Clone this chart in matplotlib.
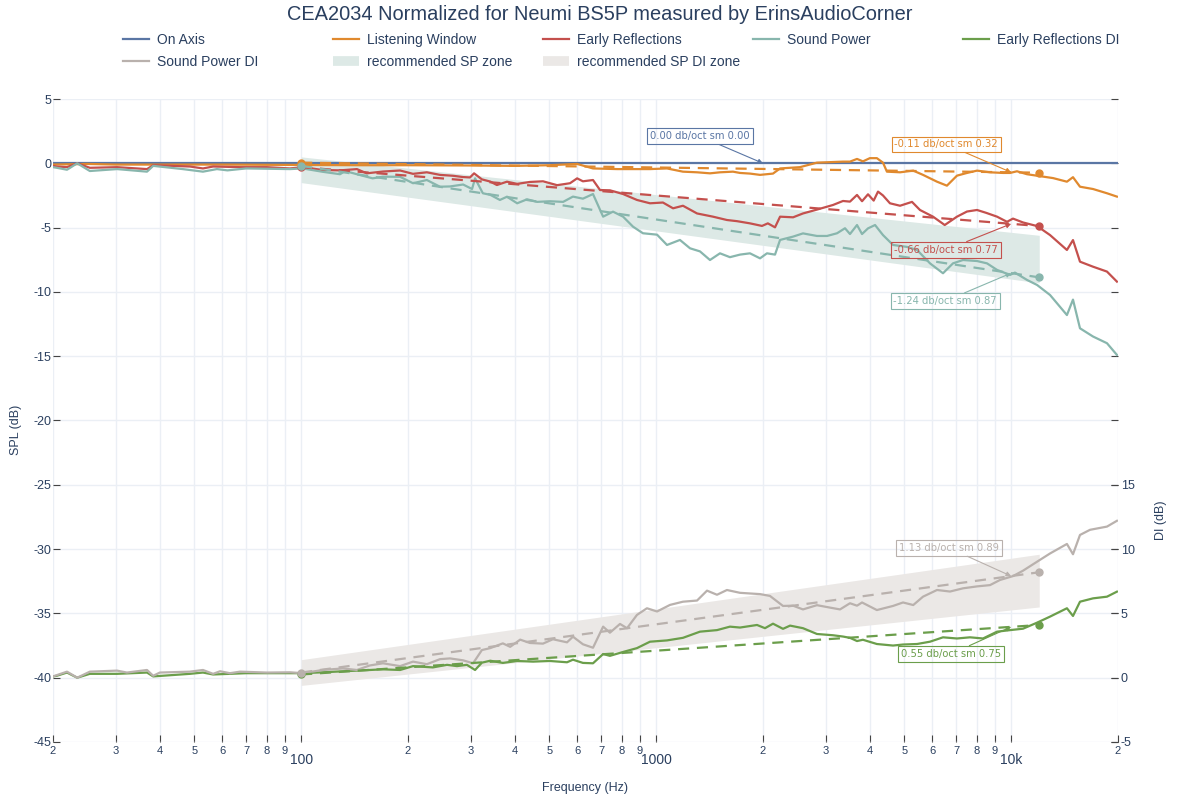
import matplotlib
matplotlib.use("Agg")
import matplotlib.pyplot as pyplot
from matplotlib.lines import Line2D
from matplotlib.ticker import FixedLocator, FixedFormatter
import numpy

TITLE = "CEA2034 Normalized for Neumi BS5P measured by ErinsAudioCorner"

# --- spl curves (dB) -------------------------------------------------------
ON_FREQ = [20, 20000]
ON_SPL = [0.0, 0.0]

LW_FREQ = [20, 25, 30, 40, 60, 100, 150, 200, 300, 400, 500, 599, 664, 776, 900,
           961, 1073, 1190, 1304, 1418, 1513, 1646, 1723, 1838, 1962, 2134, 2234,
           2542, 2838, 3360, 3516, 3680, 3824, 4000, 4186, 4355, 4468, 4865, 5300,
           5646, 6182, 6593, 7038, 7510, 8016, 8720, 9488, 9930, 10388, 11085,
           12060, 13124, 14360, 14936, 15630, 17010, 18620, 19860]
LW_SPL = [-0.1, -0.05, -0.1, -0.1, -0.1, -0.13, -0.15, -0.15, -0.17, -0.2, -0.15,
          -0.05, -0.4, -0.45, -0.45, -0.45, -0.4, -0.65, -0.7, -0.78, -0.7, -0.65,
          -0.75, -0.8, -0.9, -0.8, -0.4, -0.3, 0.05, 0.13, 0.13, 0.34, 0.15, 0.4,
          0.4, 0.05, -0.65, -0.7, -0.57, -0.9, -1.43, -1.74, -0.96, -0.75, -0.57,
          -0.7, -0.75, -0.75, -0.62, -0.85, -1.0, -1.15, -1.43, -1.08, -1.82, -2.0,
          -2.33, -2.59]

ER_FREQ = [20, 20.5, 21.9, 23.4, 25.4, 30.3, 36.8, 38.3, 48.6, 52.9, 56.5, 67.3,
           80, 93, 101, 115, 128.7, 143.6, 153, 170, 190, 206.6, 226, 246, 268,
           286, 299, 307, 323, 341, 356, 380, 406, 441, 480, 526, 572, 599, 622,
           664, 695, 741, 807, 883, 961, 1045, 1116, 1190, 1304, 1446, 1583, 1690,
           1838, 1987, 2064, 2162, 2234, 2431, 2592, 2838, 3150, 3360, 3516, 3680,
           3802, 3952, 4100, 4217, 4355, 4557, 4865, 5257, 5536, 6025, 6500, 7038,
           7510, 8016, 8500, 9127, 9736, 10120, 10800, 11832, 12870, 14360, 14936,
           15630, 17010, 18620, 19860]
ER_SPL = [-0.2, -0.25, -0.3, 0.0, -0.35, -0.3, -0.45, -0.15, -0.25, -0.4, -0.25,
          -0.3, -0.3, -0.4, -0.3, -0.52, -0.55, -0.45, -0.78, -0.64, -0.56, -0.82,
          -0.7, -0.9, -0.97, -1.07, -1.1, -0.78, -1.25, -1.42, -1.69, -1.43, -1.6,
          -1.45, -1.4, -1.7, -1.55, -1.17, -1.4, -1.3, -2.08, -2.1, -2.39, -2.85,
          -3.11, -3.05, -3.5, -3.3, -3.9, -4.15, -4.41, -4.5, -4.67, -4.87, -4.67,
          -4.98, -4.15, -4.2, -3.9, -3.6, -3.24, -2.93, -2.98, -2.46, -2.95, -2.41,
          -2.9, -2.2, -2.5, -3.11, -3.3, -3.0, -3.63, -4.15, -4.8, -4.15, -3.75,
          -3.63, -3.85, -4.15, -4.55, -4.3, -4.6, -4.88, -5.58, -6.74, -5.97,
          -7.65, -8.04, -8.42, -9.2]

SP_FREQ = [20, 20.5, 21.9, 23.4, 25.4, 30.3, 36.8, 38.3, 46.4, 52.9, 57.9, 62, 70,
           93, 101, 115, 128.7, 133, 143.6, 159, 170, 190, 206.6, 226, 246, 262.6,
           286, 303, 309, 325, 341, 363, 380, 406, 433, 462, 502, 547, 583, 622,
           664, 709, 756, 807, 861, 918, 1006, 1073, 1167, 1246, 1329, 1418, 1513,
           1614, 1723, 1838, 1962, 2052, 2162, 2234, 2431, 2592, 2838, 3030, 3233,
           3404, 3516, 3680, 3802, 3952, 4137, 4355, 4648, 5088, 5432, 5908, 6428,
           6858, 7318, 8016, 8551, 9127, 9930, 10250, 11085, 11832, 12870, 14360,
           14936, 15630, 17010, 18620, 19860]
SP_SPL = [-0.3, -0.35, -0.5, 0.0, -0.6, -0.45, -0.65, -0.2, -0.45, -0.65, -0.45,
          -0.55, -0.4, -0.45, -0.4, -0.66, -0.85, -0.6, -0.85, -1.17, -1.04, -1.05,
          -1.55, -1.3, -1.82, -1.8, -1.65, -2.0, -1.17, -2.33, -2.45, -2.85, -2.6,
          -3.11, -2.8, -3.0, -2.95, -3.0, -2.59, -2.75, -2.39, -4.15, -3.76, -4.15,
          -4.93, -5.44, -5.55, -6.35, -5.96, -6.61, -6.85, -7.52, -7.0, -7.3, -7.1,
          -7.0, -7.39, -7.0, -7.1, -5.96, -5.7, -5.45, -5.65, -5.65, -5.44, -5.05,
          -5.5, -4.8, -5.5, -5.06, -4.8, -5.58, -6.35, -6.5, -6.74, -7.78, -8.55,
          -7.78, -7.52, -7.6, -7.78, -8.29, -8.68, -8.5, -9.07, -9.46, -10.24,
          -11.8, -10.6, -12.83, -13.47, -13.99, -14.9]

# --- directivity index curves (dB) ------------------------------------------
ERDI_FREQ = [20, 20.5, 21.9, 23.4, 25.4, 30.3, 36.8, 38.3, 48.6, 52.9, 56.5, 70,
             93, 101, 115, 143.6, 170, 190, 206.6, 235, 257.6, 274.8, 293, 309,
             323, 341, 370, 406, 450, 502, 561, 583, 622, 664, 709, 741, 807, 883,
             961, 1073, 1190, 1329, 1484, 1614, 1723, 1924, 2026, 2134, 2277, 2384,
             2592, 2838, 3150, 3360, 3516, 3680, 3824, 4186, 4648, 4960, 5432, 5908,
             6428, 7038, 7658, 8333, 9127, 9930, 10800, 11832, 12870, 14360, 14936,
             15630, 17010, 18620, 19860]
ERDI = [0.1, 0.15, 0.4, 0.0, 0.3, 0.3, 0.4, 0.1, 0.3, 0.4, 0.25, 0.35, 0.35, 0.35,
        0.42, 0.55, 0.65, 0.6, 0.9, 0.8, 1.0, 0.9, 1.0, 0.6, 1.17, 1.32, 1.15, 1.3,
        1.25, 1.3, 1.2, 1.4, 1.15, 1.12, 1.84, 1.7, 2.0, 2.3, 2.8, 2.9, 3.1, 3.58,
        3.7, 3.97, 3.9, 4.1, 3.85, 4.2, 3.8, 4.05, 3.85, 3.4, 3.3, 3.2, 3.1, 2.85,
        2.95, 2.62, 2.5, 2.58, 2.62, 2.8, 3.14, 3.05, 3.14, 3.05, 3.58, 3.7, 3.81,
        4.28, 4.75, 5.4, 4.8, 5.91, 6.17, 6.3, 6.69]

SPDI_FREQ = [20, 20.5, 21.9, 23.4, 25.4, 30.3, 32.3, 36.8, 38.3, 40, 48.6, 52.9,
             56.5, 59.1, 63, 67.3, 80, 93, 101, 115, 131, 143.6, 156, 170, 190,
             206.6, 226, 246, 262.6, 286, 305, 323, 341, 370, 388, 414, 441, 480,
             512, 561, 583, 622, 664, 709, 741, 791, 828, 883, 942, 1006, 1094,
             1190, 1304, 1391, 1484, 1583, 1723, 1838, 1962, 2092, 2277, 2431, 2592,
             2838, 3089, 3296, 3516, 3680, 3802, 4186, 4648, 4960, 5300, 5646, 6182,
             6727, 7318, 8016, 8720, 9304, 10120, 10800, 11832, 12870, 14360, 14936,
             15630, 16680, 18620, 19860]
SPDI = [0.1, 0.2, 0.47, 0.0, 0.47, 0.55, 0.4, 0.6, 0.15, 0.4, 0.47, 0.6, 0.3, 0.5,
        0.35, 0.47, 0.4, 0.42, 0.35, 0.6, 0.72, 0.6, 0.95, 1.12, 0.9, 1.25, 1.05,
        1.44, 1.5, 1.35, 1.12, 2.15, 2.3, 2.67, 2.4, 2.96, 2.7, 2.65, 2.99, 2.75,
        3.19, 2.6, 2.33, 3.97, 3.5, 4.18, 3.85, 4.88, 5.4, 5.15, 5.66, 5.91, 6.0,
        6.77, 6.45, 6.82, 6.6, 6.55, 6.5, 6.36, 5.58, 5.6, 5.31, 5.64, 5.45, 5.31,
        5.79, 5.6, 5.85, 5.26, 5.58, 5.85, 5.65, 6.3, 6.82, 6.7, 6.95, 7.1, 7.2,
        7.6, 7.9, 8.32, 9.02, 9.66, 10.4, 9.6, 11.1, 11.5, 11.75, 12.2]

# --- slope fits and recommended zones -------------------------------------
FIT_FREQ = [100, 12000]
LW_FIT = [0.05, -0.73]
ER_FIT = [-0.3, -4.88]
SP_FIT = [-0.2, -8.87]
ERDI_FIT = [0.25, 4.1]
SPDI_FIT = [0.4, 8.2]

ZONE_FREQ = [100, 12000]
SP_ZONE_HI = [0.5, -5.6]
SP_ZONE_LO = [-1.5, -9.3]
SPDI_ZONE_HI = [1.4, 9.6]
SPDI_ZONE_LO = [-0.6, 5.5]

NOTE_ON = "0.00 db/oct sm 0.00"
NOTE_LW = "-0.11 db/oct sm 0.32"
NOTE_ER = "-0.66 db/oct sm 0.77"
NOTE_SP = "-1.24 db/oct sm 0.87"
NOTE_SPDI = "1.13 db/oct sm 0.89"
NOTE_ERDI = "0.55 db/oct sm 0.75"

COLORS = {
    "on": "#5a76a4",
    "lw": "#e0892e",
    "er": "#c4504d",
    "sp": "#88b6ad",
    "erdi": "#6b9e4b",
    "spdi": "#b9b1ad",
    "sp_zone": "#dde9e6",
    "spdi_zone": "#ebe8e6",
}
TEXT = "#2a3f5f"
GRID = "#ebeff5"

pyplot.rcParams["font.family"] = ["Liberation Sans", "DejaVu Sans"]
pyplot.rcParams["axes.unicode_minus"] = False

fig = pyplot.figure(figsize=(12, 8), dpi=100)
ax = fig.add_axes([53 / 1200, 1 - 742 / 800, 1065 / 1200, 643 / 800])
ax2 = ax.twinx()

ax.set_xscale("log")
ax.set_xlim(20, 20000)
ax.set_ylim(-45, 5)
ax2.set_ylim(-5, 45)

# zones
ax.fill_between(ZONE_FREQ, SP_ZONE_LO, SP_ZONE_HI, color=COLORS["sp_zone"], lw=0, zorder=1)
ax2.fill_between(ZONE_FREQ, SPDI_ZONE_LO, SPDI_ZONE_HI, color=COLORS["spdi_zone"], lw=0, zorder=1)

lw = 1.6
h_on, = ax.plot(ON_FREQ, ON_SPL, color=COLORS["on"], lw=lw, zorder=3)
h_lw, = ax.plot(LW_FREQ, LW_SPL, color=COLORS["lw"], lw=lw, zorder=3)
h_er, = ax.plot(ER_FREQ, ER_SPL, color=COLORS["er"], lw=lw, zorder=3)
h_sp, = ax.plot(SP_FREQ, SP_SPL, color=COLORS["sp"], lw=lw, zorder=3)
h_erdi, = ax2.plot(ERDI_FREQ, ERDI, color=COLORS["erdi"], lw=lw, zorder=3)
h_spdi, = ax2.plot(SPDI_FREQ, SPDI, color=COLORS["spdi"], lw=lw, zorder=3)

fit_style = dict(lw=1.6, ls=(0, (5, 3.5)), marker="o", markersize=5, zorder=4)
ax.plot(FIT_FREQ, LW_FIT, color=COLORS["lw"], **fit_style)
ax.plot(FIT_FREQ, ER_FIT, color=COLORS["er"], **fit_style)
ax.plot(FIT_FREQ, SP_FIT, color=COLORS["sp"], **fit_style)
ax2.plot(FIT_FREQ, ERDI_FIT, color=COLORS["erdi"], **fit_style)
ax2.plot(FIT_FREQ, SPDI_FIT, color=COLORS["spdi"], **fit_style)


def fit_at(freq, fit):
    t = numpy.log10(freq / FIT_FREQ[0]) / numpy.log10(FIT_FREQ[1] / FIT_FREQ[0])
    return fit[0] + t * (fit[1] - fit[0])


def add_note(axis, text, xy, offset, color):
    axis.annotate(text, xy=xy, xytext=offset, textcoords="offset pixels",
                  ha="center", va="center", fontsize=7.2, color=color,
                  family="DejaVu Sans", zorder=6,
                  bbox=dict(boxstyle="square,pad=0.28", fc="none", ec=color, lw=0.8),
                  arrowprops=dict(arrowstyle="-|>", color=color, lw=0.8,
                                  mutation_scale=7, shrinkA=0, shrinkB=0))


add_note(ax, NOTE_ON, (2000, 0.0), (-63, 27), COLORS["on"])
add_note(ax, NOTE_LW, (10000, fit_at(10000, LW_FIT)), (-65, 28), COLORS["lw"])
add_note(ax, NOTE_ER, (10000, fit_at(10000, ER_FIT)), (-65, -26), COLORS["er"])
add_note(ax, NOTE_SP, (10000, fit_at(10000, SP_FIT)), (-66, -28), COLORS["sp"])
add_note(ax2, NOTE_SPDI, (10000, fit_at(10000, SPDI_FIT)), (-62, 28), COLORS["spdi"])
add_note(ax2, NOTE_ERDI, (10000, fit_at(10000, ERDI_FIT)), (-60, -27), COLORS["erdi"])

# axes styling
for a in (ax, ax2):
    for s in a.spines.values():
        s.set_visible(False)
ax2.patch.set_visible(False)

major = [100, 1000, 10000]
minor = [m * d for d in (10, 100, 1000) for m in range(2, 10)] + [20000]
ax.xaxis.set_major_locator(FixedLocator(major))
ax.xaxis.set_major_formatter(FixedFormatter(["100", "1000", "10k"]))
ax.xaxis.set_minor_locator(FixedLocator(minor))
ax.xaxis.set_minor_formatter(FixedFormatter([str(m)[0] for m in minor]))
ax.tick_params(axis="x", which="major", direction="in", length=5, width=0.8,
               colors="#444444", labelcolor=TEXT, labelsize=10, pad=8)
ax.tick_params(axis="x", which="minor", direction="in", length=5, width=0.8,
               colors="#444444", labelcolor=TEXT, labelsize=8, pad=3)

ax.set_yticks(numpy.arange(-45, 6, 5))
ax.tick_params(axis="y", direction="in", length=5, width=0.8, colors="#444444",
               labelcolor=TEXT, labelsize=9, pad=1, right=True)
ax2.set_yticks([-5, 0, 5, 10, 15])
ax2.tick_params(axis="y", direction="in", length=5, width=0.8, colors="#444444",
                labelcolor=TEXT, labelsize=9, pad=2)

ax.grid(True, which="both", axis="x", color=GRID, lw=1, zorder=0)
ax.grid(True, which="major", axis="y", color=GRID, lw=1, zorder=0)
ax.set_axisbelow(True)

ax.set_xlabel("Frequency (Hz)", color=TEXT, fontsize=9)
ax.xaxis.set_label_coords(0.5, -0.062)
ax.set_ylabel("SPL (dB)", color=TEXT, fontsize=9)
ax.yaxis.set_label_coords(-0.029, 0.485)
ax2.set_ylabel("DI (dB)", color=TEXT, fontsize=9)
ax2.yaxis.set_label_coords(1.035, 0.345)

fig.suptitle(TITLE, y=1 - 15 / 800, va="center", fontsize=14.4, color=TEXT)

# legend, five evenly spaced columns
zone_sp = Line2D([], [], color=COLORS["sp_zone"], lw=7, solid_capstyle="butt")
zone_spdi = Line2D([], [], color=COLORS["spdi_zone"], lw=7, solid_capstyle="butt")
columns = [
    ([h_on, h_spdi], ["On Axis", "Sound Power DI"]),
    ([h_lw, zone_sp], ["Listening Window", "recommended SP zone"]),
    ([h_er, zone_spdi], ["Early Reflections", "recommended SP DI zone"]),
    ([h_sp], ["Sound Power"]),
    ([h_erdi], ["Early Reflections DI"]),
]
for i, (handles, labels) in enumerate(columns):
    fig.legend(handles, labels, loc="upper left", bbox_to_anchor=((123 + 210 * i) / 1200, 1 - 33 / 800),
               frameon=False, fontsize=10, handlelength=1.85, handletextpad=0.6,
               labelspacing=0.55, borderpad=0, borderaxespad=0, labelcolor=TEXT)

fig.savefig("out.png", dpi=100, facecolor="white")
